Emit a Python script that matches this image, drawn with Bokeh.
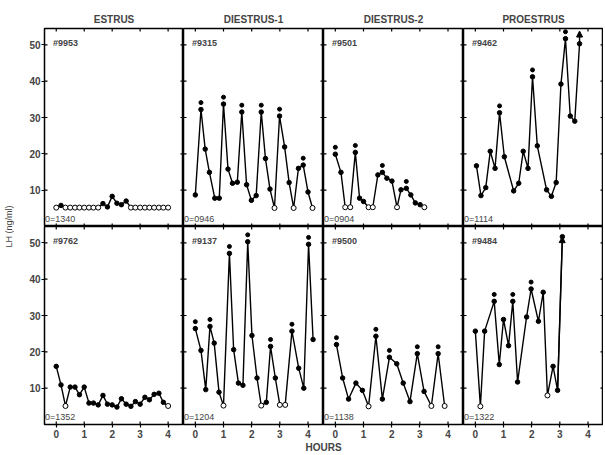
from bokeh.plotting import figure
from bokeh.layouts import gridplot, row, column
from bokeh.models import Range1d, Label, Arrow, NormalHead, FixedTicker
from bokeh.embed import file_html
from bokeh.resources import INLINE

# ---------------- data ----------------
phases = ["ESTRUS", "DIESTRUS-1", "DIESTRUS-2", "PROESTRUS"]
x_ticks = [0, 1, 2, 3, 4]
y_ticks = [10, 20, 30, 40, 50]

# top row
a_id, a_start = "#9953", "0=1340"
a_x = [0, 0.17, 0.33, 0.5, 0.67, 0.83, 1.0, 1.17, 1.33, 1.5, 1.67, 1.83, 2.0,
       2.17, 2.33, 2.5, 2.67, 2.83, 3.0, 3.17, 3.33, 3.5, 3.67, 3.83, 4.0]
a_y = [5.2, 5.8, 5.2, 5.2, 5.2, 5.2, 5.2, 5.2, 5.2, 5.2, 6.3, 5.4, 8.3,
       6.4, 6.0, 7.0, 5.2, 5.2, 5.2, 5.2, 5.2, 5.2, 5.2, 5.2, 5.2]
a_open = [0, 2, 3, 4, 5, 6, 7, 8, 9, 16, 17, 18, 19, 20, 21, 22, 23, 24]
a_peak = []

b_id, b_start = "#9315", "0=0946"
b_x = [0, 0.2, 0.35, 0.5, 0.69, 0.85, 1.0, 1.16, 1.32, 1.49, 1.65, 1.82, 1.99,
       2.16, 2.34, 2.49, 2.65, 2.81, 2.99, 3.17, 3.33, 3.49, 3.66, 3.83, 4.0, 4.16]
b_y = [8.7, 32.2, 21.3, 14.9, 7.8, 7.8, 33.7, 15.8, 11.9, 12.2, 31.5, 11.5, 7.2,
       8.5, 31.5, 18.7, 10.3, 5.1, 30.4, 21.9, 12.1, 5.1, 16.0, 16.9, 9.5, 5.1]
b_open = [17, 21, 25]
b_peak = [1, 6, 10, 14, 18, 23]

c_id, c_start = "#9501", "0=0904"
c_x = [0, 0.2, 0.35, 0.53, 0.71, 0.86, 1.0, 1.18, 1.33, 1.51, 1.67, 1.83, 2.01,
       2.19, 2.33, 2.52, 2.68, 2.84, 3.01, 3.16]
c_y = [19.9, 14.9, 5.3, 5.3, 20.4, 7.8, 6.9, 5.3, 5.3, 14.2, 14.9, 13.3, 12.5,
       5.3, 10.1, 10.5, 8.7, 6.5, 6.0, 5.3]
c_open = [2, 3, 7, 8, 13, 19]
c_peak = [0, 4, 10, 15]

d_id, d_start = "#9462", "0=1114"
d_x = [0.04, 0.2, 0.37, 0.53, 0.7, 0.86, 1.03, 1.36, 1.54, 1.70, 1.87, 2.03,
       2.2, 2.53, 2.7, 2.87, 3.04, 3.2, 3.37, 3.53, 3.7]
d_y = [16.7, 8.5, 10.7, 20.7, 16.0, 31.3, 19.2, 9.8, 11.9, 20.7, 16.0, 41.2,
       22.2, 10.1, 8.3, 12.1, 39.2, 51.7, 30.4, 29.0, 50.3]
d_open = []
d_peak = [5, 11, 17]
d_arrow_top = 53.8

# bottom row
e_id, e_start = "#9762", "0=1352"
e_x = [0, 0.17, 0.33, 0.5, 0.67, 0.83, 1.0, 1.17, 1.33, 1.5, 1.67, 1.83, 2.0,
       2.17, 2.33, 2.5, 2.67, 2.83, 3.0, 3.17, 3.33, 3.5, 3.67, 3.83, 4.0]
e_y = [16.0, 10.9, 5.1, 10.3, 10.3, 8.2, 10.3, 5.9, 5.9, 5.4, 8.0, 5.6, 5.4,
       4.8, 7.1, 5.6, 5.0, 6.3, 5.6, 7.5, 6.8, 8.3, 8.6, 6.1, 5.1]
e_open = [2, 24]
e_peak = []

f_id, f_start = "#9137", "0=1204"
f_x = [0, 0.2, 0.37, 0.52, 0.67, 0.84, 1.0, 1.21, 1.36, 1.53, 1.69, 1.86, 2.01,
       2.19, 2.34, 2.52, 2.67, 2.84, 3.0, 3.19, 3.43, 3.67, 3.85, 4.02, 4.18]
f_y = [26.4, 20.4, 9.6, 27.0, 22.4, 8.9, 5.2, 47.1, 20.6, 11.4, 10.8, 50.3, 24.5,
       12.8, 5.2, 6.1, 21.5, 12.8, 5.4, 5.4, 25.7, 15.5, 10.0, 49.6, 23.4]
f_open = [6, 14, 18, 19]
f_peak = [0, 3, 7, 11, 16, 20, 23]

g_id, g_start = "#9500", "0=1138"
g_x = [0.04, 0.26, 0.47, 0.73, 0.96, 1.18, 1.44, 1.67, 1.92, 2.18, 2.41, 2.65,
       2.91, 3.15, 3.41, 3.65, 3.88]
g_y = [22.0, 12.8, 7.0, 11.4, 9.4, 5.0, 24.3, 7.0, 18.5, 16.7, 11.4, 6.3, 19.5,
       9.1, 5.1, 19.5, 5.1]
g_open = [5, 14, 16]
g_peak = [0, 6, 8, 12, 15]

h_id, h_start = "#9484", "0=1322"
h_x = [0, 0.18, 0.33, 0.67, 0.85, 1.0, 1.18, 1.33, 1.5, 1.82, 1.98, 2.24, 2.41,
       2.56, 2.76, 2.92, 3.09]
h_y = [25.7, 5.0, 25.7, 33.9, 16.5, 28.9, 21.7, 33.9, 11.7, 29.6, 37.3, 28.4,
       36.4, 8.0, 16.0, 9.4, 51.7]
h_open = [1, 13]
h_peak = [3, 7, 10]

# ---------------- layout / style constants ----------------
FW = [139, 140, 140, 140]
FH = 198
YLAB_W = 12
LEFT = 30
TOP = 28
BOTTOM = 14
XLAB_H = 13
FONT = "Liberation Sans"
PEAK_GAP = 1.9
X0, X1 = -0.42, 4.55
Y0, Y1 = 0, 54.5
TICK_PX = 3


def inner_ticks(p, fw):
    dx = TICK_PX * (X1 - X0) / fw
    dy = TICK_PX * (Y1 - Y0) / FH
    kw = dict(line_color="black", line_width=1.2)
    # left and right edges
    p.segment([X0] * len(y_ticks), y_ticks, [X0 + dx] * len(y_ticks), y_ticks, **kw)
    p.segment([X1 - dx] * len(y_ticks), y_ticks, [X1] * len(y_ticks), y_ticks, **kw)
    # bottom and top edges
    p.segment(x_ticks, [Y0] * len(x_ticks), x_ticks, [Y0 + dy] * len(x_ticks), **kw)
    p.segment(x_ticks, [Y1 - dy] * len(x_ticks), x_ticks, [Y1] * len(x_ticks), **kw)


def make_panel(col, rowi, x, y, open_idx, peak_idx, pid, pstart, arrow_last=False, arrow_top=None):
    p = figure(frame_width=FW[col], frame_height=FH,
               x_range=Range1d(X0, X1), y_range=Range1d(Y0, Y1),
               output_backend="svg", toolbar_location=None,
               x_axis_location="below" if rowi == 1 else None,
               y_axis_location="left" if col == 0 else None,
               min_border=0,
               min_border_left=LEFT if col == 0 else 0,
               min_border_top=TOP if rowi == 0 else 0,
               min_border_bottom=BOTTOM if rowi == 1 else 0,
               min_border_right=0)
    p.grid.visible = False
    p.outline_line_color = "black"
    p.outline_line_width = 1.5
    p.background_fill_color = "white"
    p.border_fill_color = "white"
    if rowi == 0:
        p.title.text = phases[col]
        p.title.align = "center"
        p.title.text_font = FONT
        p.title.text_font_style = "bold"
        p.title.text_font_size = "10px"
        p.title.standoff = 7
    if rowi == 1:
        xa = p.xaxis[0]
        xa.ticker = FixedTicker(ticks=x_ticks)
        xa.minor_tick_line_color = None
        xa.axis_line_color = None
        xa.major_tick_in = 0
        xa.major_tick_out = TICK_PX
        xa.major_tick_line_width = 1.2
        xa.major_label_text_font = FONT
        xa.major_label_text_font_style = "bold"
        xa.major_label_text_font_size = "10px"
        xa.major_label_standoff = 2
    if col == 0:
        ya = p.yaxis[0]
        ya.ticker = FixedTicker(ticks=y_ticks)
        ya.minor_tick_line_color = None
        ya.axis_line_color = None
        ya.major_tick_in = 0
        ya.major_tick_out = TICK_PX
        ya.major_tick_line_width = 1.2
        ya.major_label_text_font = FONT
        ya.major_label_text_font_style = "bold"
        ya.major_label_text_font_size = "10px"
        ya.major_label_standoff = 1
    inner_ticks(p, FW[col])

    p.line(x, y, line_color="black", line_width=1.4)
    filled = [i for i in range(len(x)) if i not in open_idx]
    p.scatter([x[i] for i in filled], [y[i] for i in filled], size=4.5,
              fill_color="black", line_color="black")
    if open_idx:
        p.scatter([x[i] for i in open_idx], [y[i] for i in open_idx], size=5,
                  fill_color="white", line_color="black", line_width=1)
    if peak_idx:
        p.scatter([x[i] for i in peak_idx], [y[i] + PEAK_GAP for i in peak_idx],
                  size=4, fill_color="black", line_color="black")
    if arrow_top is not None:
        i = len(x) - 1
        p.add_layout(Arrow(end=NormalHead(size=6, fill_color="black", line_color="black"),
                           x_start=x[i], y_start=y[i], x_end=x[i], y_end=arrow_top,
                           line_color="black", line_width=1.4))
    if arrow_last:
        i = len(x) - 1
        p.add_layout(Arrow(end=NormalHead(size=6, fill_color="black", line_color="black"),
                           x_start=x[i - 1], y_start=y[i - 1], x_end=x[i], y_end=y[i],
                           line_color="black", line_width=1.4))
    p.add_layout(Label(x=-0.12, y=50.6, text=pid, text_font=FONT, text_font_style="bold",
                       text_font_size="9px", text_baseline="middle"))
    p.add_layout(Label(x=-0.40, y=2.2, text=pstart, text_font=FONT,
                       text_font_size="9px", text_baseline="middle"))
    return p


panels = [
    [make_panel(0, 0, a_x, a_y, a_open, a_peak, a_id, a_start),
     make_panel(1, 0, b_x, b_y, b_open, b_peak, b_id, b_start),
     make_panel(2, 0, c_x, c_y, c_open, c_peak, c_id, c_start),
     make_panel(3, 0, d_x, d_y, d_open, d_peak, d_id, d_start, arrow_top=d_arrow_top)],
    [make_panel(0, 1, e_x, e_y, e_open, e_peak, e_id, e_start),
     make_panel(1, 1, f_x, f_y, f_open, f_peak, f_id, f_start),
     make_panel(2, 1, g_x, g_y, g_open, g_peak, g_id, g_start),
     make_panel(3, 1, h_x, h_y, h_open, h_peak, h_id, h_start, arrow_last=True)],
]
grid = gridplot(panels, toolbar_location=None)

GRID_W = LEFT + sum(FW)

# y-axis title spanning both rows
ylab = figure(frame_width=1, frame_height=2 * FH, x_range=Range1d(0, 1), y_range=Range1d(0, 1),
              output_backend="svg", toolbar_location=None,
              x_axis_location=None, y_axis_location="left",
              min_border=0, min_border_top=TOP, min_border_left=YLAB_W - 1)
ylab.grid.visible = False
ylab.outline_line_color = None
ya = ylab.yaxis[0]
ya.ticker = FixedTicker(ticks=[])
ya.axis_line_color = None
ya.major_tick_line_color = None
ya.minor_tick_line_color = None
ya.axis_label = "LH (ng/ml)"
ya.axis_label_text_font = FONT
ya.axis_label_text_font_style = "normal"
ya.axis_label_text_font_size = "9px"
ya.axis_label_standoff = 0

# x-axis title spanning all columns
xlab = figure(frame_width=GRID_W, frame_height=XLAB_H, x_range=Range1d(0, GRID_W), y_range=Range1d(0, 1),
              output_backend="svg", toolbar_location=None, x_axis_location=None, y_axis_location=None,
              min_border=0)
xlab.grid.visible = False
xlab.outline_line_color = None
xlab.add_layout(Label(x=LEFT + FW[0] + FW[1], y=0.5, text="HOURS", text_align="center",
                      text_baseline="middle", text_font=FONT, text_font_style="bold",
                      text_font_size="10px"))

layout = row(ylab, column(grid, xlab))

open("out.html", "w").write(file_html(layout, INLINE))
